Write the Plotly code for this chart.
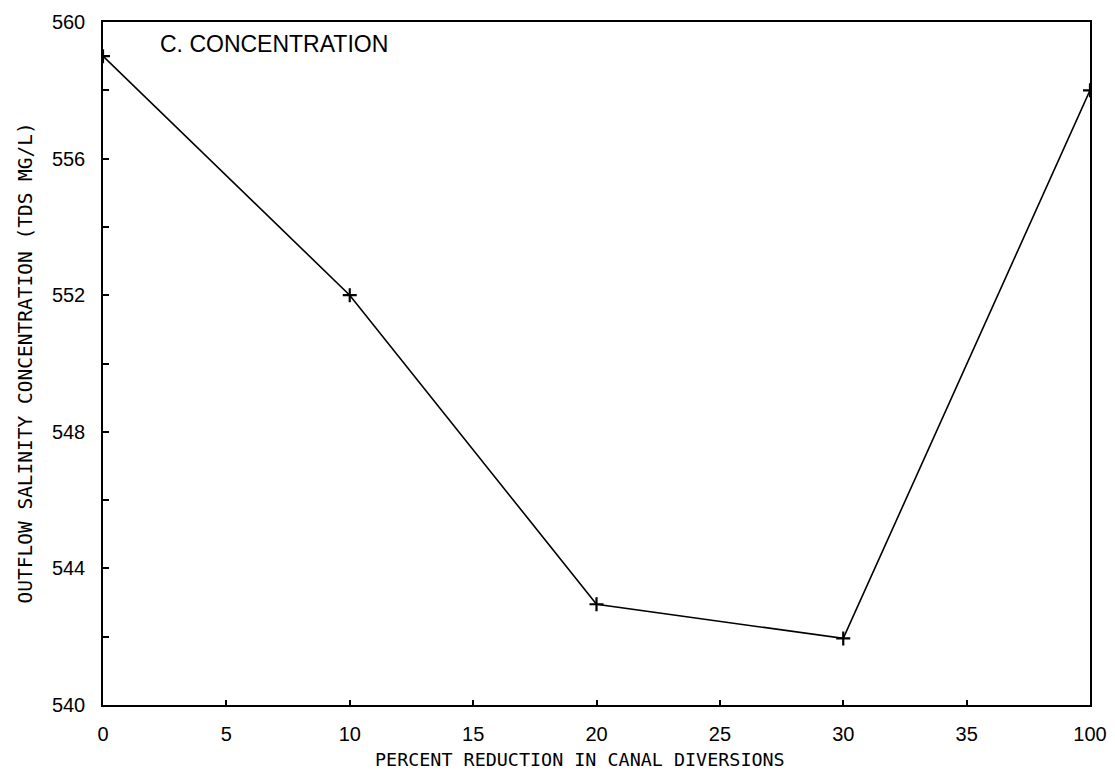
import plotly.graph_objects as go

x_labels = ["0", "5", "10", "15", "20", "25", "30", "35", "100"]
x_values = ["0", "10", "20", "30", "100"]
concentration = [559.0, 552.0, 542.95, 541.95, 558.0]
y_ticks = [540, 544, 548, 552, 556, 560]

x_pos = [x_labels.index(v) for v in x_values]

tick_font = dict(family="Liberation Sans", size=20, color="black")
title_font_family = "DejaVu Sans Mono"

fig = go.Figure()
fig.add_trace(go.Scatter(
    x=x_pos, y=concentration, mode="lines+markers",
    line=dict(color="black", width=1.6),
    marker=dict(symbol="cross-thin", size=10, line=dict(color="black", width=2.2), color="black"),
    showlegend=False,
))

fig.update_layout(
    width=1107, height=768,
    margin=dict(l=95, r=25, t=14, b=71),
    paper_bgcolor="white", plot_bgcolor="white",
    font=dict(family="Liberation Sans", color="black"),
    annotations=[
        dict(text="C. CONCENTRATION", xref="paper", yref="paper",
             x=0.0557, y=0.968, xanchor="left", yanchor="middle", showarrow=False,
             font=dict(family="Liberation Sans", size=23, color="black")),
        dict(text="PERCENT REDUCTION IN CANAL DIVERSIONS", xref="paper", yref="paper",
             x=0.483, y=-0.0805, xanchor="center", yanchor="middle", showarrow=False,
             font=dict(family=title_font_family, size=18.4, color="black")),
        dict(text="OUTFLOW SALINITY CONCENTRATION (TDS MG/L)", xref="paper", yref="paper",
             x=-0.079, y=0.5, xanchor="center", yanchor="middle", showarrow=False,
             textangle=-90,
             font=dict(family=title_font_family, size=19.5, color="black")),
    ],
)
fig.update_xaxes(
    range=[0, len(x_labels) - 1], automargin=False,
    tickvals=list(range(len(x_labels))), ticktext=x_labels,
    ticks="inside", ticklen=5, tickwidth=2, tickcolor="black",
    showline=True, linecolor="black", linewidth=1.5, mirror=True,
    showgrid=False, zeroline=False,
    tickfont=tick_font, ticklabelstandoff=10,
)
fig.update_yaxes(
    range=[540, 560], automargin=False,
    tickvals=y_ticks,
    ticks="inside", ticklen=6, tickwidth=1.5, tickcolor="black",
    minor=dict(dtick=2, tick0=540, ticks="inside", ticklen=6, tickwidth=1.5, tickcolor="black"),
    showline=True, linecolor="black", linewidth=1.5, mirror=True,
    showgrid=False, zeroline=False,
    tickfont=tick_font, ticklabelstandoff=12,
)

fig.write_html("out.html")
